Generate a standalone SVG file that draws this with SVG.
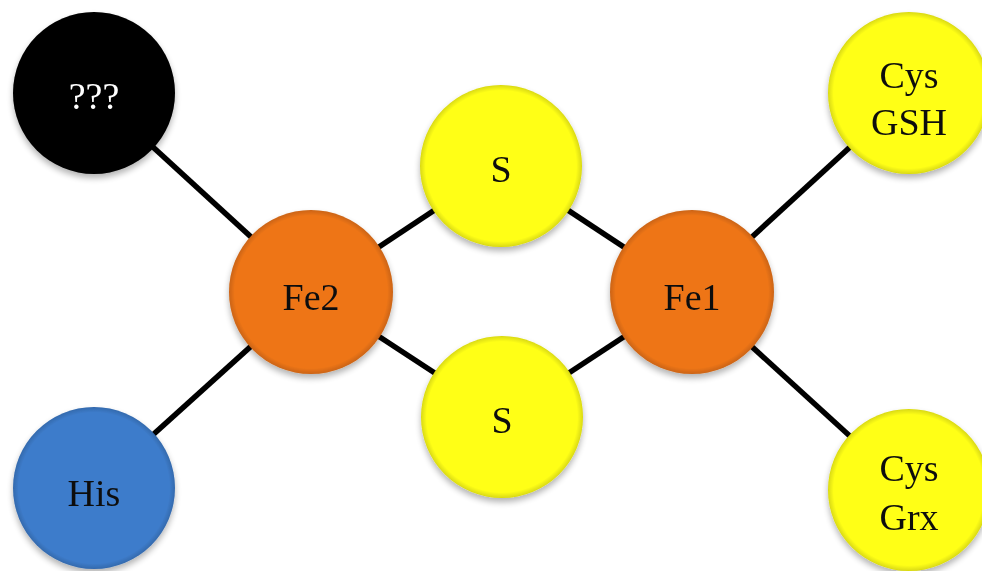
<svg xmlns="http://www.w3.org/2000/svg" width="982" height="571" viewBox="0 0 982 571">
<style>
.lbl{font-family:"Liberation Serif","Times New Roman",serif;font-size:38px;text-anchor:middle;fill:#111}
.wt{fill:#fff}
.edge{stroke:#000;stroke-width:5.5;fill:none}
</style>
<defs>
<filter id="sh" x="-20%" y="-20%" width="140%" height="150%">
<feGaussianBlur in="SourceAlpha" stdDeviation="3"/>
<feOffset dx="0" dy="4" result="b"/>
<feComponentTransfer><feFuncA type="linear" slope="0.3"/></feComponentTransfer>
<feMerge><feMergeNode/><feMergeNode in="SourceGraphic"/></feMerge>
</filter>
<radialGradient id="bev" cx="0.5" cy="0.5" r="0.5">
<stop offset="0.93" stop-color="#000" stop-opacity="0"/>
<stop offset="1" stop-color="#000" stop-opacity="0.15"/>
</radialGradient>
</defs>
<rect width="982" height="571" fill="#fff"/>
<g id="connectors">
<line class="edge" x1="94" y1="93" x2="311" y2="292"/>
<line class="edge" x1="94" y1="488" x2="311" y2="292"/>
<line class="edge" x1="311" y1="292" x2="501" y2="166"/>
<line class="edge" x1="311" y1="292" x2="502" y2="417"/>
<line class="edge" x1="501" y1="166" x2="692" y2="292"/>
<line class="edge" x1="502" y1="417" x2="692" y2="292"/>
<line class="edge" x1="692" y1="292" x2="909" y2="93"/>
<line class="edge" x1="692" y1="292" x2="909" y2="490"/>
</g>
<g id="n-unknown" filter="url(#sh)">
<circle cx="94" cy="93" r="81" fill="#000"/>
<circle cx="94" cy="93" r="81" fill="url(#bev)"/>
<text class="lbl wt" x="94" y="109">???</text>
</g>
<g id="n-his" filter="url(#sh)">
<circle cx="94" cy="488" r="81" fill="#3D7CCB"/>
<circle cx="94" cy="488" r="81" fill="url(#bev)"/>
<text class="lbl" x="94" y="506">His</text>
</g>
<g id="n-fe2" filter="url(#sh)">
<circle cx="311" cy="292" r="82" fill="#EE7518"/>
<circle cx="311" cy="292" r="82" fill="url(#bev)"/>
<text class="lbl" x="311" y="310">Fe2</text>
</g>
<g id="n-s1" filter="url(#sh)">
<circle cx="501" cy="166" r="81" fill="#FFFF14"/>
<circle cx="501" cy="166" r="81" fill="url(#bev)"/>
<text class="lbl" x="501" y="182">S</text>
</g>
<g id="n-s2" filter="url(#sh)">
<circle cx="502" cy="417" r="81" fill="#FFFF14"/>
<circle cx="502" cy="417" r="81" fill="url(#bev)"/>
<text class="lbl" x="502" y="433">S</text>
</g>
<g id="n-fe1" filter="url(#sh)">
<circle cx="692" cy="292" r="82" fill="#EE7518"/>
<circle cx="692" cy="292" r="82" fill="url(#bev)"/>
<text class="lbl" x="692" y="310">Fe1</text>
</g>
<g id="n-cysgsh" filter="url(#sh)">
<circle cx="909" cy="93" r="81" fill="#FFFF14"/>
<circle cx="909" cy="93" r="81" fill="url(#bev)"/>
<text class="lbl" x="909" y="88">Cys</text>
<text class="lbl" x="909" y="135">GSH</text>
</g>
<g id="n-cysgrx" filter="url(#sh)">
<circle cx="909" cy="490" r="81" fill="#FFFF14"/>
<circle cx="909" cy="490" r="81" fill="url(#bev)"/>
<text class="lbl" x="909" y="481">Cys</text>
<text class="lbl" x="909" y="530">Grx</text>
</g>
</svg>
